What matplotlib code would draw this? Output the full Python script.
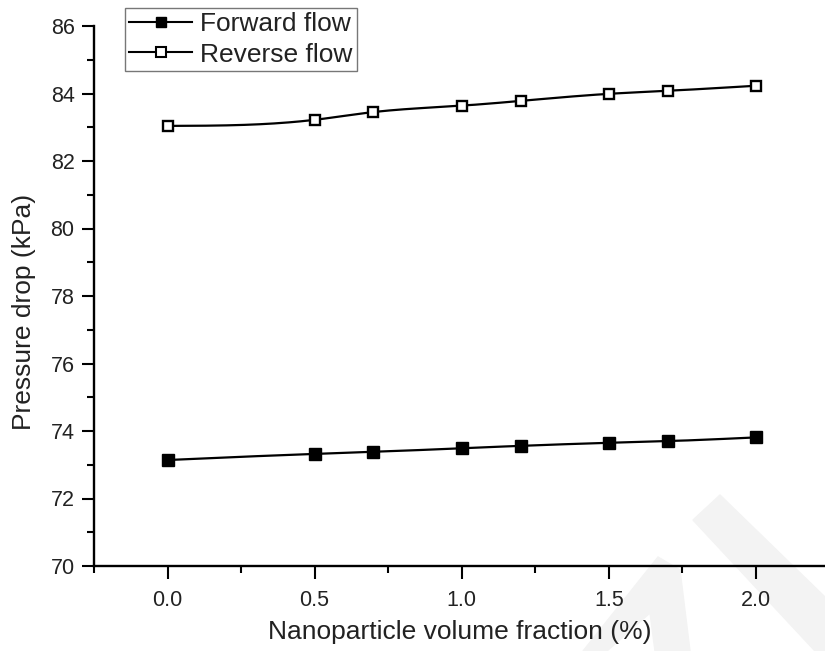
import numpy as np
import matplotlib.pyplot as plt
from matplotlib.patches import Polygon
from matplotlib.lines import Line2D
from matplotlib.ticker import MultipleLocator

# --- data ---
fraction = [0.0, 0.5, 0.7, 1.0, 1.2, 1.5, 1.7, 2.0]
forward_dp = [73.14, 73.32, 73.38, 73.49, 73.56, 73.65, 73.70, 73.81]
reverse_dp = [83.04, 83.22, 83.45, 83.64, 83.78, 83.99, 84.08, 84.23]


def smooth_line(x, y, n=200):
    # natural cubic spline through the points, only for the drawn curve
    x = np.asarray(x, float)
    y = np.asarray(y, float)
    h = np.diff(x)
    m = len(x)
    A = np.zeros((m, m))
    b = np.zeros(m)
    A[0, 0] = A[-1, -1] = 1
    for i in range(1, m - 1):
        A[i, i - 1] = h[i - 1]
        A[i, i] = 2 * (h[i - 1] + h[i])
        A[i, i + 1] = h[i]
        b[i] = 6 * ((y[i + 1] - y[i]) / h[i] - (y[i] - y[i - 1]) / h[i - 1])
    M = np.linalg.solve(A, b)
    xs = np.linspace(x[0], x[-1], n)
    k = np.clip(np.searchsorted(x, xs) - 1, 0, m - 2)
    t = xs - x[k]
    hk = h[k]
    ys = (M[k] * (x[k + 1] - xs) ** 3 / (6 * hk) + M[k + 1] * t ** 3 / (6 * hk)
          + (y[k] / hk - M[k] * hk / 6) * (x[k + 1] - xs)
          + (y[k + 1] / hk - M[k + 1] * hk / 6) * t)
    return xs, ys


def px(x, y):
    # pixel position -> figure fraction
    return (x / 825, 1 - y / 651)


plt.rcParams['font.family'] = ['Liberation Sans', 'DejaVu Sans']
txt = '#222222'

fig = plt.figure(figsize=(8.25, 6.51), dpi=100)

# faint watermark in the lower right corner, behind everything
wm = '#f3f3f3'
for pts in ([(693, 520), (720, 495), (825, 597), (825, 651), (815, 651)],
            [(583, 651), (658, 557), (680, 570), (690, 651), (655, 651),
             (650, 613), (607, 651)]):
    fig.patches.append(Polygon([px(*p) for p in pts], closed=True,
                               transform=fig.transFigure, color=wm, zorder=-10))

ax = fig.add_axes([94 / 825, 85 / 651, 1 - 94 / 825, (566 - 26) / 651])
ax.patch.set_alpha(0)

xs, ys = smooth_line(fraction, forward_dp)
ax.plot(xs, ys, color='black', lw=1.6)
ax.plot(fraction, forward_dp, ls='none', marker='s', ms=8, mfc='black', mec='black')
xs, ys = smooth_line(fraction, reverse_dp)
ax.plot(xs, ys, color='black', lw=1.6)
ax.plot(fraction, reverse_dp, ls='none', marker='s', ms=7.5, mfc='white', mec='black', mew=1.7)

ax.set_xlim(-0.25, 2.235)
ax.set_ylim(70, 86)
ax.xaxis.set_major_locator(MultipleLocator(0.5))
ax.xaxis.set_minor_locator(MultipleLocator(0.25))
ax.yaxis.set_major_locator(MultipleLocator(2))
ax.yaxis.set_minor_locator(MultipleLocator(1))
ax.xaxis.set_major_formatter(plt.FuncFormatter(lambda v, p: f'{v:.1f}'))

for s in ['top', 'right']:
    ax.spines[s].set_visible(False)
for s in ['left', 'bottom']:
    ax.spines[s].set_linewidth(1.7)

ax.tick_params(which='major', direction='out', length=9, width=1.5, labelsize=15.5,
               labelcolor=txt)
ax.tick_params(which='minor', direction='out', length=5, width=1.5)
ax.tick_params(axis='x', pad=8)
ax.tick_params(axis='y', pad=5)

ax.set_xlabel('Nanoparticle volume fraction (%)', fontsize=19, labelpad=7, color=txt)
ax.set_ylabel('Pressure drop (kPa)', fontsize=19, color=txt)
ax.yaxis.set_label_coords(-0.079, 0.47)

# legend box sits partly above the axes
handles = [Line2D([], [], color='black', lw=1.5, marker='s', ms=7.5, mfc='black'),
           Line2D([], [], color='black', lw=1.5, marker='s', ms=7, mfc='white', mew=1.5)]
leg = fig.legend(handles, ['Forward flow', 'Reverse flow'], loc='upper left',
                 bbox_to_anchor=px(125, 8), fontsize=19, frameon=True,
                 fancybox=False, edgecolor='#777777', framealpha=1,
                 handlelength=2.4, handletextpad=0.3, borderpad=0.15, labelspacing=0.25,
                 borderaxespad=0)
leg.get_frame().set_linewidth(1.0)
for t in leg.get_texts():
    t.set_color(txt)

fig.savefig('out.png', dpi=100)
